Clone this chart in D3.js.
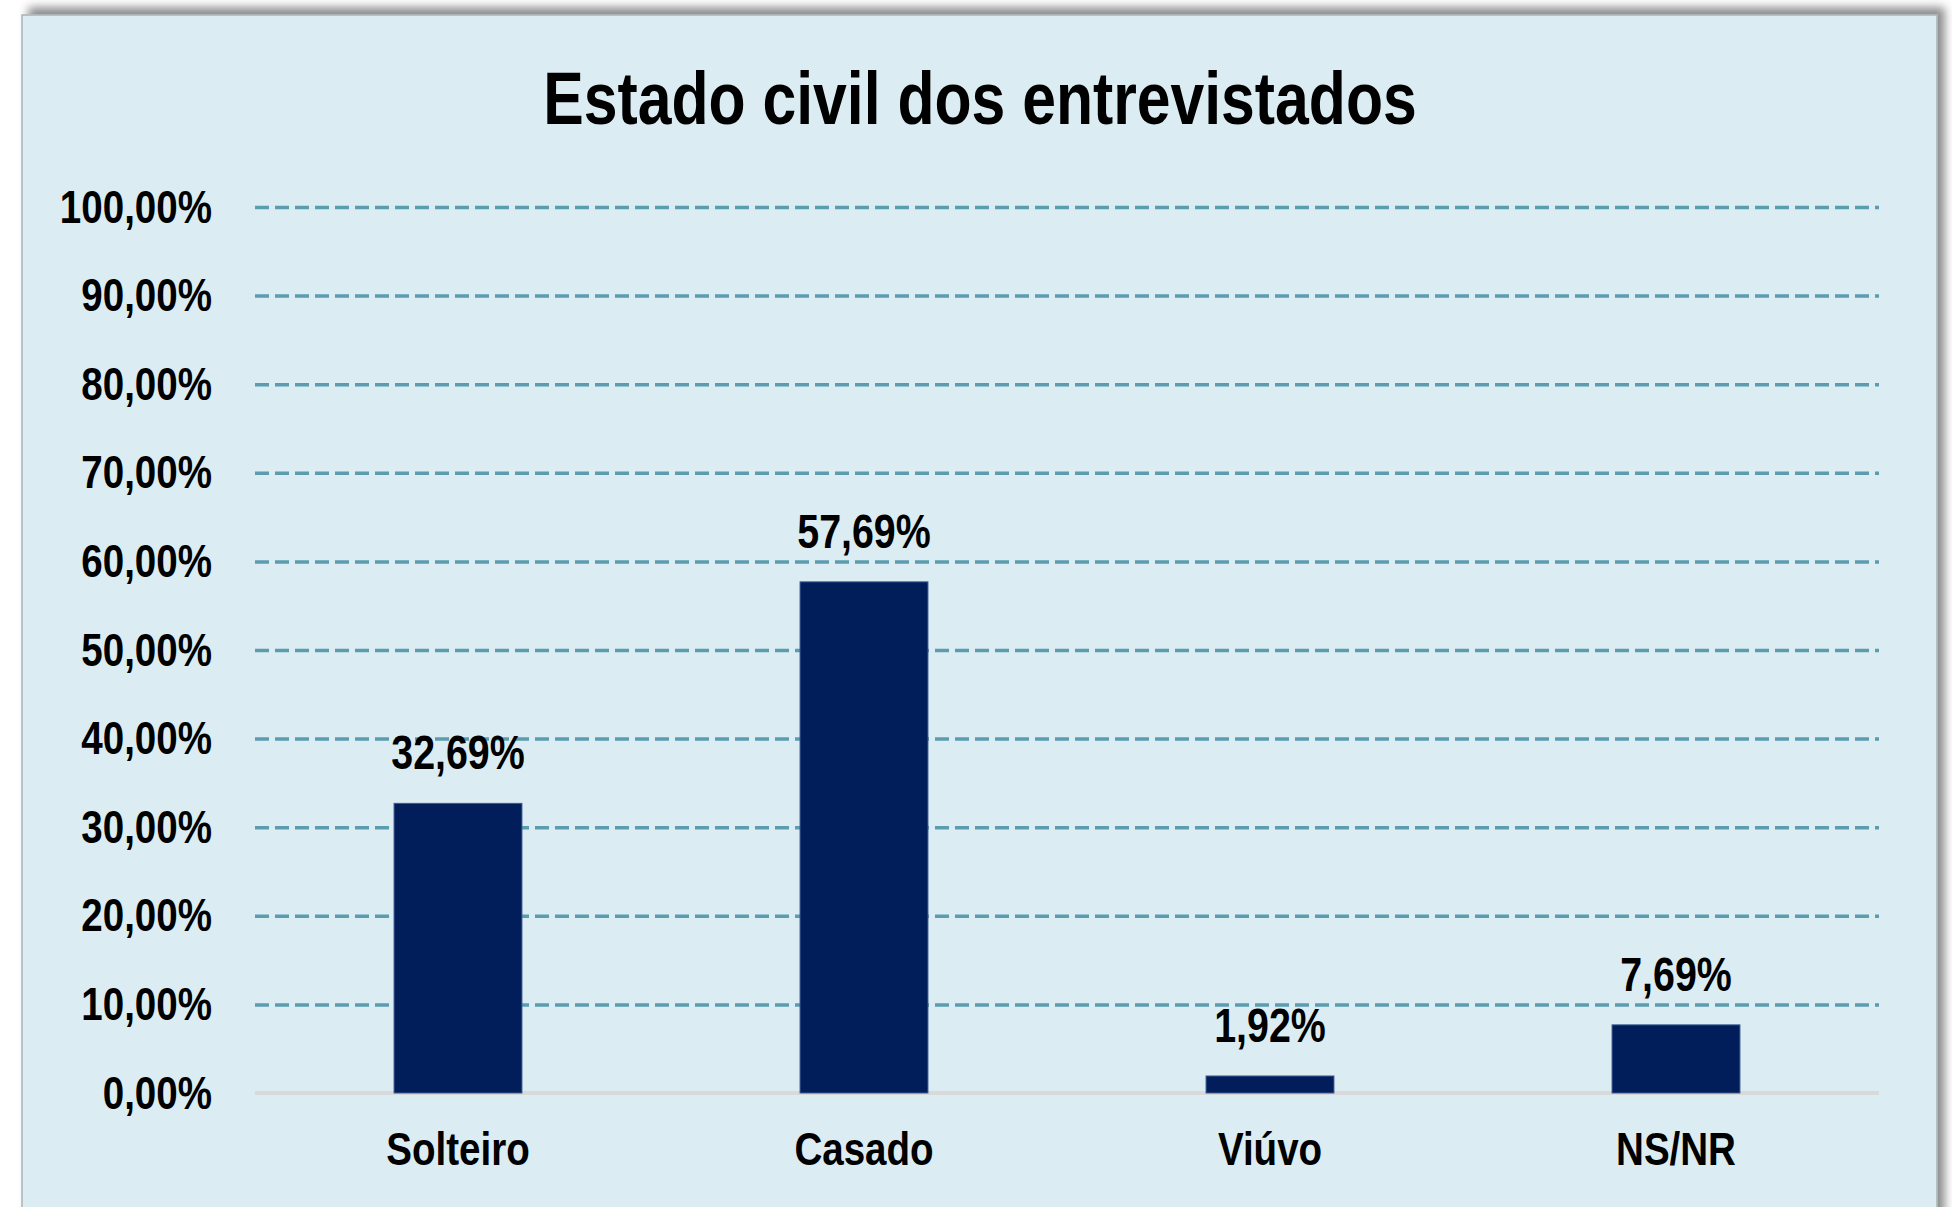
<!DOCTYPE html>
<html>
<head>
<meta charset="utf-8">
<script src="https://cdn.jsdelivr.net/npm/d3@7"></script>
<style>
	body { margin: 0; background: #ffffff; }
	text { font-family: "Liberation Sans Narrow", "Arial Narrow", "Liberation Sans", Arial, sans-serif; fill: #000000; font-weight: bold; }
</style>
</head>
<body>
<div id="wrapper"></div>
<script>
const chartTitle = "Estado civil dos entrevistados";
const categories = ["Solteiro", "Casado", "Viúvo", "NS/NR"];
const values = [32.69, 57.69, 1.92, 7.69];
const yTicks = [0, 10, 20, 30, 40, 50, 60, 70, 80, 90, 100];
const yTickLabels = ["0,00%", "10,00%", "20,00%", "30,00%", "40,00%", "50,00%", "60,00%", "70,00%", "80,00%", "90,00%", "100,00%"];

// no narrow font here, so squeeze the regular one to Arial Narrow width
function narrow(selection) {
	selection.each(function() {
		const len = this.getComputedTextLength();
		d3.select(this)
			.attr("textLength", len * 0.82)
			.attr("lengthAdjust", "spacingAndGlyphs");
	});
}

function drawBarChart() {
	let dimensions = {
		width: 1952,
		height: 1207,
		margin: {
			top: 207,
			right: 73,
			bottom: 114,
			left: 255
		}
	};
	dimensions.boundedWidth = dimensions.width - dimensions.margin.left - dimensions.margin.right;
	dimensions.boundedHeight = dimensions.height - dimensions.margin.top - dimensions.margin.bottom;

	const svg = d3.select("#wrapper").append("svg")
		.attr("width", dimensions.width)
		.attr("height", dimensions.height);

	// card shadow
	const defs = svg.append("defs");
	const shadow = defs.append("filter").attr("id", "shadow")
		.attr("x", "-5%").attr("y", "-5%").attr("width", "110%").attr("height", "110%");
	shadow.append("feDropShadow")
		.attr("dx", 7).attr("dy", -7).attr("stdDeviation", 5)
		.attr("flood-color", "#000000").attr("flood-opacity", 0.45);

	svg.append("rect")
		.attr("x", 22)
		.attr("y", 15)
		.attr("width", 1915)
		.attr("height", 1260)
		.attr("fill", "#dbedf3")
		.attr("stroke", "#a9b3b6")
		.attr("stroke-width", 1.5)
		.attr("filter", "url(#shadow)");

	svg.append("text")
		.attr("x", 980)
		.attr("y", 124)
		.attr("text-anchor", "middle")
		.style("font-size", "74px")
		.text(chartTitle)
		.call(narrow);

	const bounds = svg.append("g")
		.attr("transform", `translate(${dimensions.margin.left}, ${dimensions.margin.top})`);

	const yScale = d3.scaleLinear()
		.domain([0, 100])
		.range([dimensions.boundedHeight, 0]);

	const xScale = d3.scaleBand()
		.domain(categories)
		.range([0, dimensions.boundedWidth])
		.paddingInner(0.685)
		.paddingOuter(0.3425);

	// dashed gridlines
	const grid = bounds.append("g")
		.call(d3.axisLeft(yScale)
			.tickValues(yTicks.filter(d => d > 0))
			.tickSize(-dimensions.boundedWidth)
			.tickFormat(""));
	grid.select(".domain").remove();
	grid.selectAll("line")
		.attr("stroke", "#5b9caf")
		.attr("stroke-width", 3.5)
		.attr("stroke-dasharray", "14,6");

	// baseline
	bounds.append("line")
		.attr("x1", 0)
		.attr("x2", dimensions.boundedWidth)
		.attr("y1", yScale(0))
		.attr("y2", yScale(0))
		.attr("stroke", "#d9d9d9")
		.attr("stroke-width", 4);

	bounds.selectAll(".bar")
		.data(values)
		.join("rect")
		.attr("class", "bar")
		.attr("x", (d, i) => xScale(categories[i]))
		.attr("width", xScale.bandwidth())
		.attr("y", d => yScale(d))
		.attr("height", d => yScale(0) - yScale(d))
		.attr("fill", "#011e5b")
		.attr("stroke", "#3b5a92")
		.attr("stroke-width", 1);

	bounds.selectAll(".value")
		.data(values)
		.join("text")
		.attr("class", "value")
		.attr("x", (d, i) => xScale(categories[i]) + xScale.bandwidth() / 2)
		.attr("y", d => yScale(d) - 34)
		.attr("text-anchor", "middle")
		.style("font-size", "48px")
		.text(d => d.toFixed(2).replace(".", ",") + "%")
		.call(narrow);

	const yAxis = bounds.append("g")
		.call(d3.axisLeft(yScale)
			.tickValues(yTicks)
			.tickSize(0)
			.tickPadding(43)
			.tickFormat((d, i) => yTickLabels[i]));
	yAxis.select(".domain").remove();
	yAxis.selectAll("text")
		.attr("dy", "0.32em")
		.style("font-size", "47px")
		.call(narrow);

	const xAxis = bounds.append("g")
		.attr("transform", `translate(0, ${dimensions.boundedHeight})`)
		.call(d3.axisBottom(xScale).tickSize(0).tickPadding(39));
	xAxis.select(".domain").remove();
	xAxis.selectAll("text")
		.attr("dy", "0.71em")
		.style("font-size", "47px")
		.call(narrow);
}

drawBarChart();
</script>
</body>
</html>
